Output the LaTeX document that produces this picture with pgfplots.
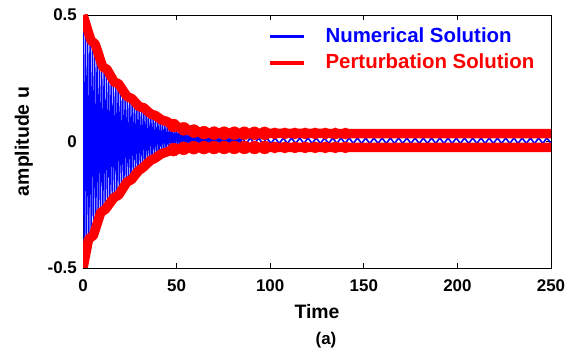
\documentclass[border=0pt]{standalone}
\usepackage{pgfplots}
\pgfplotsset{compat=1.18}
\usepackage{fontspec}
\setmainfont{Liberation Sans}
\begin{document}
\begin{tikzpicture}
\path[use as bounding box] (0,0) rectangle (576bp,349bp);
\begin{axis}[
  at={(83bp,81bp)}, anchor=south west,
  scale only axis, width=468bp, height=253bp,
  xmin=0, xmax=250, ymin=-0.5, ymax=0.5,
  xtick={0,50,100,150,200,250},
  xticklabels={0,50,100,150,200,250},
  ytick={-0.5,0,0.5}, yticklabels={-0.5,0,0.5},
  tick align=inside, major tick length=5bp,
  every tick/.style={black, line width=0.8bp},
  axis line style={line width=0.8bp},
  xticklabel style={font=\fontsize{17}{17}\selectfont\bfseries, anchor=base, inner sep=0pt, yshift=-24bp},
  yticklabel style={font=\fontsize{17}{17}\selectfont\bfseries, anchor=east, inner sep=0pt, xshift=-6bp},
  xlabel={Time},
  xlabel style={font=\fontsize{19.5}{19.5}\selectfont\bfseries, at={([yshift=-50bp]axis description cs:0.5,0)}, anchor=base, inner sep=0pt},
  ylabel={amplitude u},
  ylabel style={font=\fontsize{19.5}{19.5}\selectfont\bfseries, at={([xshift=-54bp]axis description cs:0,0.5)}, anchor=base, inner sep=0pt},
  legend style={draw=none, fill=none, at={(axis description cs:0.395,0.952)}, anchor=north west, inner sep=0pt, column sep=20bp, row sep=7bp, font=\fontsize{20.5}{20.5}\selectfont\bfseries, nodes={inner sep=0pt, text height=15bp, text depth=4bp}},
  legend cell align=left,
  legend image code/.code={\draw[#1] (0bp,0bp) -- (34bp,0bp);},
]
% Numerical solution (fast oscillation), early part
\addplot[blue, line width=1.4bp, forget plot] coordinates {
(0,0.48)(0.625,-0.47)(1.25,0.455)(1.875,-0.43)(2.5,0.43)(3.125,-0.395)(3.75,0.40)(4.375,-0.367)
(5,0.375)(5.625,-0.342)(6.25,0.35)(6.875,-0.32)(7.5,0.325)(8.125,-0.30)(8.75,0.305)(9.375,-0.282)
(10,0.285)(10.625,-0.266)(11.25,0.27)(11.875,-0.251)(12.5,0.258)(13.125,-0.238)(13.75,0.246)(14.375,-0.226)
(15,0.235)(15.625,-0.215)(16.25,0.225)(16.875,-0.205)(17.5,0.215)(18.125,-0.195)(18.75,0.205)(19.375,-0.185)
(20,0.195)(20.625,-0.175)(21.25,0.185)(21.875,-0.166)(22.5,0.176)(23.125,-0.156)(23.75,0.167)(24.375,-0.147)
(25,0.158)(25.625,-0.137)(26.25,0.15)(26.875,-0.127)(27.5,0.142)(28.125,-0.118)(28.75,0.135)(29.375,-0.109)
(30,0.128)(30.625,-0.101)(31.25,0.121)(31.875,-0.093)(32.5,0.115)(33.125,-0.085)(33.75,0.108)(34.375,-0.077)
(35,0.102)(35.625,-0.069)(36.25,0.096)(36.875,-0.062)(37.5,0.09)(38.125,-0.055)(38.75,0.084)(39.375,-0.049)
(40,0.078)(40.625,-0.043)(41.25,0.073)(41.875,-0.038)(42.5,0.069)(43.125,-0.034)(43.75,0.064)(44.375,-0.030)
(45,0.06)(45.625,-0.027)(46.25,0.056)(46.875,-0.025)(47.5,0.053)(48.125,-0.022)(48.75,0.05)(49.375,-0.020)
(50,0.047)(50.625,-0.019)(51.25,0.044)(51.875,-0.017)(52.5,0.041)(53.125,-0.016)(53.75,0.038)(54.375,-0.014)
(55,0.036)(55.625,-0.0135)(56.25,0.034)(56.875,-0.013)(57.5,0.032)(58.125,-0.012)(58.75,0.030)(59.375,-0.0115)
(60,0.029)(60.625,-0.011)(61.25,0.027)(61.875,-0.0105)(62.5,0.026)(63.125,-0.010)(63.75,0.025)(64.375,-0.0095)
(65,0.024)(65.625,-0.009)(66.25,0.023)(66.875,-0.0085)(67.5,0.022)(68.125,-0.008)(68.75,0.021)(69.375,-0.008)
(70,0.02)(70.625,-0.008)(71.25,0.0195)(71.875,-0.008)(72.5,0.019)(73.125,-0.008)(73.75,0.0185)(74.375,-0.008)
(75,0.018)(75.625,-0.008)(76.25,0.0175)(76.875,-0.008)(77.5,0.017)(78.125,-0.008)(78.75,0.0165)(79.375,-0.008)
(80,0.016)(80.625,-0.008)(81.25,0.0155)(81.875,-0.008)(82.5,0.015)(83.125,-0.008)(83.75,0.0145)(84.375,-0.008)
(85,0.014)
};
% Numerical solution, late part
\addplot[blue, line width=1.6bp, forget plot] coordinates {
(85,0.014)(87.2,-0.008)(89.4,0.014)(91.6,-0.008)(93.8,0.014)(96,-0.008)(98.2,0.014)(100.4,-0.008)
(102.6,0.014)(104.8,-0.008)(107,0.014)(109.2,-0.008)(111.4,0.014)(113.6,-0.008)(115.8,0.014)(118,-0.008)
(120.2,0.014)(122.4,-0.008)(124.6,0.014)(126.8,-0.008)(129,0.014)(131.2,-0.008)(133.4,0.014)(135.6,-0.008)
(137.8,0.014)(140,-0.008)(142.2,0.014)(144.4,-0.008)(146.6,0.014)(148.8,-0.008)(151,0.014)(153.2,-0.008)
(155.4,0.014)(157.6,-0.008)(159.8,0.014)(162,-0.008)(164.2,0.014)(166.4,-0.008)(168.6,0.014)(170.8,-0.008)
(173,0.014)(175.2,-0.008)(177.4,0.014)(179.6,-0.008)(181.8,0.014)(184,-0.008)(186.2,0.014)(188.4,-0.008)
(190.6,0.014)(192.8,-0.008)(195,0.014)(197.2,-0.008)(199.4,0.014)(201.6,-0.008)(203.8,0.014)(206,-0.008)
(208.2,0.014)(210.4,-0.008)(212.6,0.014)(214.8,-0.008)(217,0.014)(219.2,-0.008)(221.4,0.014)(223.6,-0.008)
(225.8,0.014)(228,-0.008)(230.2,0.014)(232.4,-0.008)(234.6,0.014)(236.8,-0.008)(239,0.014)(241.2,-0.008)
(243.4,0.014)(245.6,-0.008)(247.8,0.014)(250,-0.008)
};
% Perturbation solution, upper branch
\addplot[red, line width=9.5bp, line join=round, forget plot] coordinates {
(0,0.5)(4.2,0.40)(6.5,0.385)(10.5,0.295)(12.8,0.285)(16.7,0.235)(19,0.228)(23.5,0.178)(26,0.17)
(30,0.138)(32.5,0.133)(36.3,0.108)(38.6,0.103)(42.3,0.084)(44.6,0.08)(48,0.064)(53.8,0.05)
(59.2,0.041)(64.6,0.035)(70,0.033)(100,0.032)(140,0.0315)(250,0.0315)
};
% Perturbation solution, lower branch
\addplot[red, line width=9.5bp, line join=round, forget plot] coordinates {
(0,-0.5)(3.0,-0.385)(5.5,-0.372)(9.5,-0.28)(12,-0.268)(16.5,-0.222)(19,-0.212)(23.5,-0.16)(26,-0.15)
(29.7,-0.115)(32.2,-0.102)(36,-0.075)(38.5,-0.066)(42,-0.048)(44.5,-0.042)(48,-0.032)(53.8,-0.027)
(59.2,-0.0243)(64.6,-0.024)(100,-0.0235)(250,-0.023)
};
\addplot[only marks, mark=*, mark size=6.5bp, red, forget plot] coordinates {
(48.4,0.063)(53.8,0.05)(59.2,0.041)(64.6,0.035)(70,0.033)(75.4,0.0328)(80.8,0.0326)(86.2,0.0325)(91.6,0.0323)(97,0.032)
(48.4,-0.032)(53.8,-0.027)(59.2,-0.0243)(64.6,-0.024)(70,-0.0238)(75.4,-0.0237)(80.8,-0.0237)(86.2,-0.0236)(91.6,-0.0236)(97,-0.0235)
};
\addplot[only marks, mark=*, mark size=5.6bp, red, forget plot] coordinates {
(102.4,0.032)(107.8,0.0319)(113.2,0.0318)(118.6,0.0317)(124,0.0317)(129.4,0.0316)(134.8,0.0316)(140.2,0.0315)
(102.4,-0.0235)(107.8,-0.0235)(113.2,-0.0234)(118.6,-0.0234)(124,-0.0233)(129.4,-0.0233)(134.8,-0.0232)(140.2,-0.0232)
};
\addlegendimage{blue, line width=3bp}
\addlegendentry{\textcolor{blue}{Numerical Solution}}
\addlegendimage{red, line width=3.5bp}
\addlegendentry{\textcolor{red}{Perturbation Solution}}
\end{axis}
\node[font=\fontsize{17}{17}\selectfont\bfseries, anchor=base, inner sep=0pt] at (326bp,5bp) {(a)};
\end{tikzpicture}
\end{document}
